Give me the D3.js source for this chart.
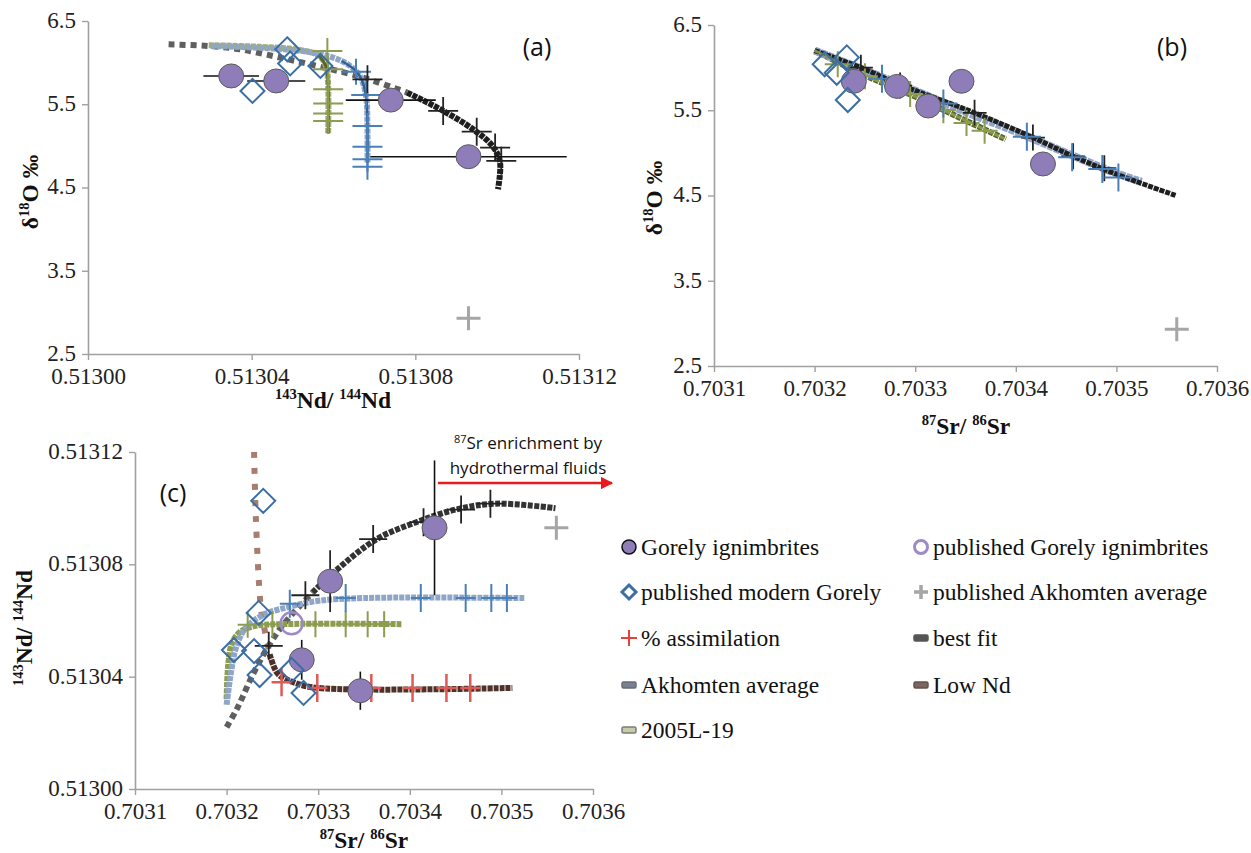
<!DOCTYPE html>
<html><head><meta charset="utf-8">
<script src="https://cdn.jsdelivr.net/npm/d3@7/dist/d3.min.js"></script>
<style>body{margin:0;background:#fff}svg{display:block}</style>
</head><body><svg id="c" width="1251" height="853"></svg>
<script>
// ---------------- DATA ----------------
// Gorely ignimbrites (samples): 87Sr/86Sr, 143Nd/144Nd, d18O
const gorelySr = [0.703346, 0.703282, 0.703313, 0.703427, 0.703239];
const gorelyNd = [0.513035, 0.513046, 0.513074, 0.513093, null];
const gorelyO = [5.84, 5.78, 5.55, 4.87, 5.84];
const gorelyNdErr = [0.0000068, 0.0000071, 0.000011, 0.000024, null];

// published modern Gorely (per panel)
const modernA_Nd = [0.5130487, 0.5130494, 0.5130402, 0.5130568];
const modernA_O = [6.16, 5.99, 5.66, 5.96];
const modernB_Sr = [0.703210, 0.703232, 0.703233, 0.703222];
const modernB_O = [6.04, 6.12, 5.62, 5.94];
const modernC_Sr = [0.703240, 0.703235, 0.703208, 0.703230, 0.703236, 0.703271, 0.703284];
const modernC_Nd = [0.5131026, 0.5130627, 0.5130495, 0.5130491, 0.5130406, 0.5130424, 0.5130342];

// published Gorely ignimbrites
const pubGorelySr = [0.703271];
const pubGorelyNd = [0.513059];

// published Akhomten average
const akhSr = [0.70356];
const akhNd = [0.513093];
const akhO = [2.93];

// mixing curves, panel (a): [Nd, d18O]
const bestFitA_sparse = [[0.5130197,6.22],[0.5130292,6.20],[0.5130372,6.16],[0.5130470,6.06],[0.5130568,5.95],[0.5130665,5.83],[0.5130746,5.70],[0.5130780,5.64]];
const bestFitA_dense = [[0.5130780,5.64],[0.5130861,5.44],[0.5130941,5.20],[0.5130990,4.99],[0.5131007,4.80],[0.5131002,4.48]];
const bestFitA_marks = [[0.5130683,5.80],[0.5130868,5.42],[0.5130950,5.17],[0.5130995,4.98],[0.5131010,4.82]];
const akhAvgA = [[0.513030,6.20],[0.513045,6.17],[0.513055,6.12],[0.513062,6.02],[0.5130655,5.90],[0.513067,5.78],[0.5130680,5.58],[0.5130683,5.20],[0.5130683,4.80]];
const akhAvgA_marks = [[0.5130655,5.89],[0.5130680,5.61],[0.5130683,5.24],[0.5130683,4.99],[0.5130683,4.84],[0.5130683,4.75]];
const l19A = [[0.5130295,6.21],[0.513042,6.19],[0.513052,6.15],[0.5130565,6.08],[0.5130582,5.95],[0.5130587,5.70],[0.5130587,5.15]];
const l19A_marks = [[0.5130585,6.14],[0.5130587,5.92],[0.5130587,5.68],[0.5130587,5.51],[0.5130587,5.39],[0.5130587,5.30]];

// panel (b): [Sr, d18O]
const bestFitB = [[0.70320,6.20],[0.703246,6.00],[0.703285,5.80],[0.703359,5.47],[0.703417,5.18],[0.703457,4.96],[0.70350,4.75],[0.703559,4.50]];
const bestFitB_marks = [[0.703246,6.00],[0.703285,5.79],[0.703359,5.47],[0.703417,5.18],[0.703457,4.96],[0.703488,4.82]];
const akhAvgB = [[0.70320,6.20],[0.70325,5.97],[0.70330,5.73],[0.70335,5.48],[0.70340,5.25],[0.70345,5.00],[0.70350,4.76],[0.703525,4.66]];
const akhAvgB_marks = [[0.703267,5.87],[0.703328,5.58],[0.703411,5.19],[0.703456,4.95],[0.703486,4.81],[0.703502,4.71]];
const l19B = [[0.70320,6.20],[0.70325,5.91],[0.70330,5.66],[0.70335,5.38],[0.70339,5.16]];
const l19B_marks = [[0.703223,6.04],[0.70325,5.90],[0.703295,5.69],[0.703328,5.50],[0.703351,5.35],[0.703369,5.26]];

// panel (c): [Sr, Nd]
const bestFitC_sparse = [[0.70320,0.513022],[0.703212,0.513029],[0.703229,0.513041],[0.703246,0.513051],[0.703263,0.513059],[0.703294,0.513070]];
const bestFitC_dense = [[0.703294,0.513070],[0.70332,0.513078],[0.703364,0.513089],[0.703407,0.513095],[0.70345,0.5130995],[0.703494,0.5131016],[0.703559,0.513100]];
const bestFitC_marks = [[0.703246,0.513051],[0.703286,0.513069],[0.70336,0.513089],[0.703415,0.513095],[0.703456,0.5130995],[0.703488,0.5131016]];
const akhAvgC = [[0.70320,0.513030],[0.703205,0.513042],[0.70321,0.513050],[0.70322,0.513057],[0.70324,0.513062],[0.70327,0.513065],[0.70330,0.513067],[0.70335,0.513068],[0.703525,0.513068]];
const akhAvgC_marks = [[0.703269,0.513066],[0.70333,0.513068],[0.703412,0.513068],[0.703461,0.513068],[0.703489,0.513068],[0.703506,0.513068]];
const l19C = [[0.70320,0.513032],[0.703202,0.513045],[0.703206,0.513052],[0.703215,0.513056],[0.70323,0.513058],[0.70326,0.5130587],[0.703392,0.5130587]];
const l19C_marks = [[0.703223,0.5130585],[0.70325,0.5130587],[0.703297,0.5130587],[0.70333,0.5130587],[0.703354,0.5130587],[0.703372,0.5130587]];
const lowNdC_sparse = [[0.703230,0.513120],[0.703232,0.513096],[0.703236,0.513070],[0.703238,0.513063],[0.703247,0.513048]];
const lowNdC_dense = [[0.703247,0.513048],[0.703256,0.513041],[0.703273,0.513038],[0.703299,0.513036],[0.703512,0.513036]];
const lowNdC_marks = [[0.70326,0.513038],[0.703299,0.513036],[0.703358,0.513036],[0.703403,0.513036],[0.70344,0.513036],[0.703466,0.513036]];

// axis ticks
const ticksA_x = [0.51300, 0.51304, 0.51308, 0.51312];
const ticksO = [2.5, 3.5, 4.5, 5.5, 6.5];
const ticksSr = [0.7031, 0.7032, 0.7033, 0.7034, 0.7035, 0.7036];
const ticksC_y = [0.51300, 0.51304, 0.51308, 0.51312];

// legend
const legendLabels = ["Gorely ignimbrites","published Gorely ignimbrites","published modern Gorely","published Akhomten average","% assimilation","best fit","Akhomten average","Low Nd","2005L-19"];

// ---------------- DRAW ----------------
const svg = d3.select("#c");
const SERIF = '"Liberation Serif", "Times New Roman", serif';
const SANS = '"Open Sans", "Noto Sans", sans-serif';
const C = {
  purple:"#8f7db9", purpleEdge:"#5a5a5a", diamond:"#3a6ea5", grey:"#a6a6a6", red:"#e8413c",
  axis:"#a0a0a0", black:"#1e1e1e", sparse:"#5f5f5f", blue:"#8fa6c8", blueDark:"#2f5f96",
  blueMark:"#4a7fb8", green:"#a3ad78", greenDark:"#56662a", greenMark:"#8c9c50",
  lowSparse:"#a87d6e", lowDense:"#4e3129", redMark:"#e05a55"
};

const xA = d3.scaleLinear().domain([0.51300,0.51312]).range([88,579]);
const yA = d3.scaleLinear().domain([2.5,6.5]).range([354,21]);
const xB = d3.scaleLinear().domain([0.7031,0.7036]).range([714,1217]);
const yB = d3.scaleLinear().domain([2.5,6.5]).range([366,25]);
const xC = d3.scaleLinear().domain([0.7031,0.7036]).range([135,593]);
const yC = d3.scaleLinear().domain([0.51300,0.51312]).range([789,452]);

function styleAxis(g){
  g.attr("font-family",null).attr("font-size",null);
  g.selectAll("path.domain").attr("stroke",C.axis).attr("stroke-width",1.6);
  g.selectAll(".tick line").attr("stroke",C.axis).attr("stroke-width",1.4);
  g.selectAll(".tick text").attr("fill","#222").style("font-family",SERIF).style("font-size","23px");
}
function drawAxes(x,y,xt,yt,xf,yf){
  const gx = svg.append("g").attr("transform",`translate(0,${y.range()[0]})`)
    .call(d3.axisBottom(x).tickValues(xt).tickFormat(d3.format(xf)).tickSizeInner(6).tickSizeOuter(0).tickPadding(8));
  styleAxis(gx);
  const gy = svg.append("g").attr("transform",`translate(${x.range()[0]},0)`)
    .call(d3.axisLeft(y).tickValues(yt).tickFormat(d3.format(yf)).tickSizeInner(6).tickSizeOuter(0).tickPadding(6));
  styleAxis(gy);
  gy.selectAll(".tick text").attr("dy","0.28em");
}
drawAxes(xA,yA,ticksA_x,ticksO,".5f",".1f");
drawAxes(xB,yB,ticksSr,ticksO,".4f",".1f");
drawAxes(xC,yC,ticksSr,ticksC_y,".4f",".5f");

function rich(sel, parts, size){
  parts.forEach(p=>{
    if(p.sup){ sel.append("tspan").style("font-size",(size*0.62)+"px").attr("dy",-size*0.38).text(p.t); }
    else { sel.append("tspan").style("font-size",size+"px").attr("dy",p.after? size*0.38:0).text(p.t); }
  });
}
const ndTitle = [{t:"143",sup:true},{t:"Nd/ ",after:true},{t:"144",sup:true},{t:"Nd",after:true}];
const srTitle = [{t:"87",sup:true},{t:"Sr/ ",after:true},{t:"86",sup:true},{t:"Sr",after:true}];
const oTitle = [{t:"δ"},{t:"18",sup:true},{t:"O ‰",after:true}];
function title(x,y,parts,rot){
  const t = svg.append("text").style("font-family",SERIF).style("font-weight","bold").attr("fill","#111")
    .attr("text-anchor","middle").attr("transform",`translate(${x},${y}) rotate(${rot||0})`);
  rich(t,parts,23.5);
}
title(333,408,ndTitle);
title(966,434,srTitle);
title(364,848,srTitle);
title(38,192,oTitle,-90);
title(662,198,oTitle,-90);
title(32,628,ndTitle,-90);

// panel labels
[["(a)",537,56],["(b)",1172,56],["(c)",173,502]].forEach(d=>{
  svg.append("text").attr("x",d[1]).attr("y",d[2]).attr("text-anchor","middle")
   .style("font-family",SANS).style("font-size","25px").attr("fill","#111").text(d[0]);
});

const lineGen = (x,y)=> d3.line().x(d=>x(d[0])).y(d=>y(d[1])).curve(d3.curveCatmullRom.alpha(0.5));
function curve(data,x,y,color,width,dash,op){
  svg.append("path").datum(data).attr("d",lineGen(x,y)).attr("fill","none")
    .attr("stroke",color).attr("stroke-width",width).attr("stroke-dasharray",dash||null)
    .attr("opacity",op||1);
}
function crosses(data,x,y,color,sx,sy,w){
  svg.append("g").selectAll("path").data(data).join("path")
   .attr("d",d=>`M${x(d[0])-sx},${y(d[1])}H${x(d[0])+sx}M${x(d[0])},${y(d[1])-sy}V${y(d[1])+sy}`)
   .attr("stroke",color).attr("stroke-width",w||2).attr("fill","none");
}
function diamonds(xs,ys,x,y){
  svg.append("g").selectAll("path").data(xs.map((v,i)=>[v,ys[i]])).join("path")
   .attr("d",d=>{const cx=x(d[0]),cy=y(d[1]),r=12;return `M${cx},${cy-r}L${cx+r},${cy}L${cx},${cy+r}L${cx-r},${cy}Z`;})
   .attr("fill","none").attr("stroke",C.diamond).attr("stroke-width",2);
}
function circles(pts,x,y){
  svg.append("g").selectAll("ellipse").data(pts).join("ellipse")
   .attr("cx",d=>x(d[0])).attr("cy",d=>y(d[1])).attr("rx",12.5).attr("ry",12)
   .attr("fill",C.purple).attr("stroke",C.purpleEdge).attr("stroke-width",1);
}
function greyPlus(xs,ys,x,y){
  crosses(xs.map((v,i)=>[v,ys[i]]),x,y,C.grey,12,12,3);
}

// ---- Panel (a)
curve(bestFitA_sparse,xA,yA,C.sparse,6,"6,5");
curve(l19A,xA,yA,C.green,6,"5,1");
curve(akhAvgA,xA,yA,C.blue,6,"5,1");
curve(akhAvgA.slice(3),xA,yA,C.blueDark,2.5);
curve(l19A.slice(3),xA,yA,C.greenDark,3);
curve(bestFitA_dense,xA,yA,C.black,6,"5,1");
crosses(l19A_marks,xA,yA,C.greenMark,15,13,2);
crosses(akhAvgA_marks,xA,yA,C.blueMark,15,13,2);
crosses(bestFitA_marks,xA,yA,"#222",15,14,1.8);
// error bars (Nd)
const gA = gorelyNd.map((v,i)=>[v,gorelyO[i],gorelyNdErr[i]]).filter(d=>d[0]!==null);
svg.append("g").selectAll("line").data(gA).join("line")
  .attr("x1",d=>xA(d[0]-d[2])).attr("x2",d=>xA(d[0]+d[2])).attr("y1",d=>yA(d[1])).attr("y2",d=>yA(d[1]))
  .attr("stroke","#111").attr("stroke-width",1.6);
circles(gA,xA,yA);
diamonds(modernA_Nd,modernA_O,xA,yA);
greyPlus(akhNd,akhO,xA,yA);

// ---- Panel (b)
curve(l19B,xB,yB,C.greenDark,6,"5,1");
curve(akhAvgB,xB,yB,C.blue,8,"6,1");
curve(bestFitB,xB,yB,C.black,5,"5,1");
curve(l19B,xB,yB,C.greenMark,3,"5,1",0.9);
crosses(l19B_marks,xB,yB,C.greenMark,13,13,2);
crosses(bestFitB_marks,xB,yB,"#222",12,13,1.8);
crosses(akhAvgB_marks,xB,yB,C.blueMark,14,14,2);
circles(gorelySr.map((v,i)=>[v,gorelyO[i]]),xB,yB);
diamonds(modernB_Sr,modernB_O,xB,yB);
greyPlus(akhSr,akhO,xB,yB);

// ---- Panel (c)
curve(lowNdC_sparse,xC,yC,C.lowSparse,6,"6,10");
curve(bestFitC_sparse,xC,yC,C.sparse,6,"6,4");
curve(l19C,xC,yC,C.greenMark,6,"5,1");
curve(akhAvgC,xC,yC,C.blue,6,"5,1");
curve(bestFitC_dense,xC,yC,"#333",6,"5,1.5");
curve(lowNdC_dense,xC,yC,C.lowDense,6,"5,1");
crosses(l19C_marks,xC,yC,C.greenMark,10,13,2);
crosses(akhAvgC_marks,xC,yC,C.blueMark,10,14,2);
crosses(bestFitC_marks,xC,yC,"#222",14,14,1.8);
crosses(lowNdC_marks,xC,yC,C.redMark,10,14,2.5);
const gC = gorelySr.map((v,i)=>[v,gorelyNd[i],gorelyNdErr[i]]).filter(d=>d[1]!==null);
svg.append("g").selectAll("line").data(gC).join("line")
  .attr("x1",d=>xC(d[0])).attr("x2",d=>xC(d[0])).attr("y1",d=>yC(d[1]-d[2])).attr("y2",d=>yC(d[1]+d[2]))
  .attr("stroke","#111").attr("stroke-width",1.6);
circles(gC,xC,yC);
svg.append("g").selectAll("circle").data(pubGorelySr.map((v,i)=>[v,pubGorelyNd[i]])).join("circle")
  .attr("cx",d=>xC(d[0])).attr("cy",d=>yC(d[1])).attr("r",11)
  .attr("fill","none").attr("stroke","#9d8bc9").attr("stroke-width",2.5);
diamonds(modernC_Sr,modernC_Nd,xC,yC);
greyPlus(akhSr,akhNd,xC,yC);

// annotation
svg.append("defs").append("marker").attr("id","arr").attr("viewBox","0 0 10 10").attr("refX",9).attr("refY",5)
  .attr("markerWidth",5).attr("markerHeight",5).attr("orient","auto")
  .append("path").attr("d","M0,0L10,5L0,10Z").attr("fill","#e8191f");
svg.append("line").attr("x1",438).attr("x2",612).attr("y1",483).attr("y2",483)
  .attr("stroke","#e8191f").attr("stroke-width",2.5).attr("marker-end","url(#arr)");
const an = svg.append("text").attr("x",528).attr("y",449).attr("text-anchor","middle")
  .style("font-family",SANS).style("font-size","17px").attr("fill","#111");
an.append("tspan").style("font-size","11px").attr("dy",-6).text("87");
an.append("tspan").attr("dy",6).text("Sr enrichment by");
svg.append("text").attr("x",528).attr("y",474).attr("text-anchor","middle")
  .style("font-family",SANS).style("font-size","17px").attr("fill","#111").text("hydrothermal fluids");

// legend
const legRows = [547,592,638,685,730];
const legCols = [629,921];
const legG = svg.append("g");
legendLabels.forEach((lab,i)=>{
  const cx = legCols[i%2], cy = legRows[Math.floor(i/2)];
  legG.append("text").attr("x",cx+12).attr("y",cy).attr("dy","0.32em")
    .style("font-family",SERIF).style("font-size","23.5px").attr("fill","#111").text(lab);
  const g = legG.append("g").attr("transform",`translate(${cx},${cy})`);
  if(i===0) g.append("circle").attr("r",7).attr("fill",C.purple).attr("stroke","#111").attr("stroke-width",1.5);
  if(i===1) g.append("circle").attr("r",6.5).attr("fill","none").attr("stroke","#9d8bc9").attr("stroke-width",3);
  if(i===2) g.append("path").attr("d","M0,-7L7,0L0,7L-7,0Z").attr("fill","none").attr("stroke",C.diamond).attr("stroke-width",3);
  if(i===3) g.append("path").attr("d","M-7,0H7M0,-7V7").attr("stroke",C.grey).attr("stroke-width",3.5);
  if(i===4) g.append("path").attr("d","M-8,0H8M0,-8V8").attr("stroke",C.red).attr("stroke-width",2);
  const bars = {5:["#555","#555"],6:["#656c78","#7a8090"],7:["#66524d","#7a6560"],8:["#7b7b7b","#c6cda4"]};
  if(bars[i]){
    g.append("rect").attr("x",-7).attr("y",-3).attr("width",14).attr("height",6).attr("rx",1.5)
     .attr("fill",bars[i][1]).attr("stroke",bars[i][0]).attr("stroke-width",1.5);
  }
});
</script></body></html>
